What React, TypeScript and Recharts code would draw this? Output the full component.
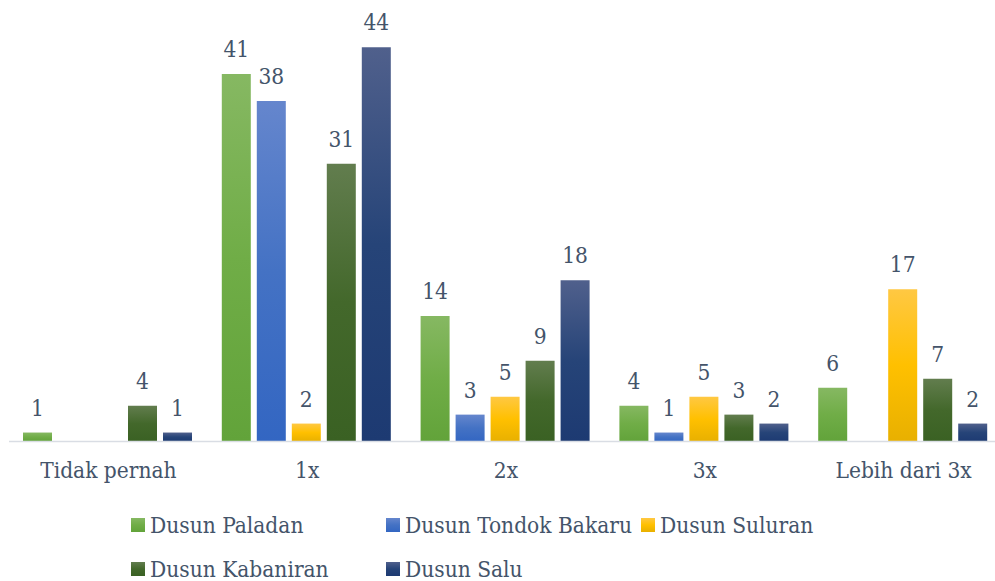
import React from 'react';
import { BarChart, Bar, XAxis, YAxis, LabelList } from 'recharts';

const categories = ['Tidak pernah', '1x', '2x', '3x', 'Lebih dari 3x'];
const seriesNames = ['Dusun Paladan', 'Dusun Tondok Bakaru', 'Dusun Suluran', 'Dusun Kabaniran', 'Dusun Salu'];
const paladan = [1, 41, 14, 4, 6];
const tondokBakaru = [0, 38, 3, 1, 0];
const suluran = [0, 2, 5, 5, 17];
const kabaniran = [4, 31, 9, 3, 7];
const salu = [1, 44, 18, 2, 2];

const seriesValues = [paladan, tondokBakaru, suluran, kabaniran, salu];
const keys = ['s0', 's1', 's2', 's3', 's4'];
const gradients = [
  ['#86b862', '#70ad47', '#62a33a'],
  ['#6586cd', '#4472c4', '#3366c2'],
  ['#ffc843', '#ffc000', '#e8b000'],
  ['#627d4e', '#43682b', '#3a6123'],
  ['#50608c', '#264478', '#1d3a72'],
];
const swatch = ['#70ad47', '#4472c4', '#ffc000', '#43682b', '#264478'];

const data = categories.map((c, i) => {
  const row: Record<string, any> = { name: c };
  keys.forEach((k, j) => { row[k] = seriesValues[j][i]; });
  return row;
});

const FONT = "'DejaVu Serif Condensed', 'DejaVu Serif', serif";
const TXT = '#44546a';
const FS = 22.5;

const fmt = (v: any) => (v === 0 || v == null ? '' : v);

export default function App() {
  return (
    <div style={{ position: 'absolute', left: 0, top: 0, width: 995, height: 581, overflow: 'hidden', background: '#fff' }}>
      <BarChart
        width={1010}
        height={581}
        data={data}
        margin={{ top: 38.2, right: 7, left: 9, bottom: 109.5 }}
        barCategoryGap={14}
        barGap={6}
      >
        <defs>
          {gradients.map((g, i) => (
            <linearGradient key={i} id={`grad${i}`} x1="0" y1="0" x2="0" y2="1">
              <stop offset="0%" stopColor={g[0]} />
              <stop offset="50%" stopColor={g[1]} />
              <stop offset="100%" stopColor={g[2]} />
            </linearGradient>
          ))}
        </defs>
        <XAxis
          dataKey="name"
          height={30}
          tickLine={false}
          axisLine={{ stroke: '#d9dde4', strokeWidth: 1.5 }}
          tickSize={6}
          tickMargin={15}
          interval={0}
          tick={{ fill: TXT, fontFamily: FONT, fontSize: FS }}
        />
        <YAxis hide domain={[0, 45]} />
        {keys.map((k, i) => (
          <Bar key={k} dataKey={k} name={seriesNames[i]} fill={`url(#grad${i})`} isAnimationActive={false}>
            <LabelList
              dataKey={k}
              position="top"
              offset={17}
              formatter={fmt}
              style={{ fill: TXT, fontFamily: FONT, fontSize: FS }}
            />
          </Bar>
        ))}
      </BarChart>
      <div
        style={{
          position: 'absolute',
          left: 131,
          top: 510,
          width: 765,
          display: 'flex',
          flexWrap: 'wrap',
          fontFamily: FONT,
          fontSize: FS,
          color: TXT,
        }}
      >
        {seriesNames.map((n, i) => (
          <div key={n} style={{ width: 255, height: 44, display: 'flex', alignItems: 'flex-start', whiteSpace: 'nowrap' }}>
            <span style={{ display: 'inline-block', width: 14, height: 14, marginTop: 8, marginRight: 5, background: `linear-gradient(${gradients[i][0]}, ${swatch[i]}, ${gradients[i][2]})` }} />
            <span style={{ lineHeight: '30px' }}>{n}</span>
          </div>
        ))}
      </div>
    </div>
  );
}
